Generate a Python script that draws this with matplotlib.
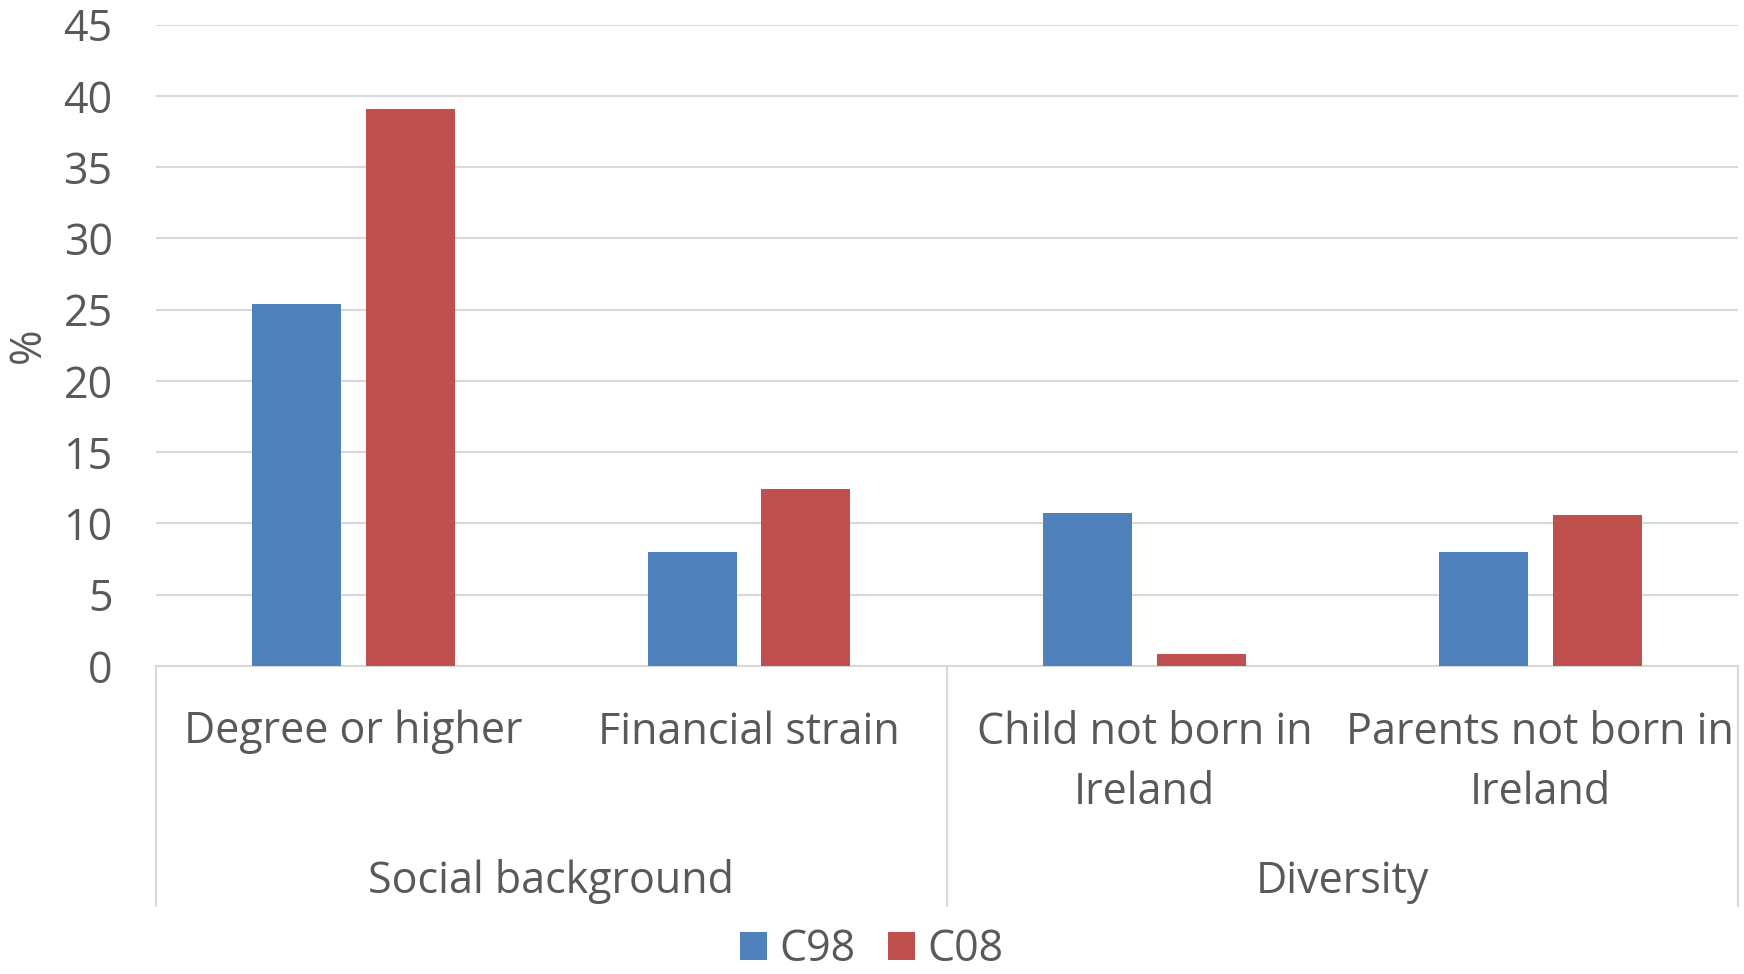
import matplotlib
matplotlib.use('Agg')
import matplotlib.pyplot as plt
import matplotlib.transforms as mtransforms
import numpy as np

# survey shares (%) for the two cohorts
categories = ['Degree or higher', 'Financial strain', 'Child not born in\nIreland', 'Parents not born in\nIreland']
groups = ['Social background', 'Diversity']
group_spans = [(0, 1), (2, 3)]
c98 = [25.4, 8.0, 10.7, 8.0]
c08 = [39.1, 12.4, 0.85, 10.6]
series_names = ['C98', 'C08']
yticks = [0, 5, 10, 15, 20, 25, 30, 35, 40, 45]

blue = '#4f81bd'
red = '#c0504d'
text_col = '#595959'
grid_col = '#d9d9d9'
fs = 31

plt.rcParams['font.family'] = ['Open Sans', 'DejaVu Sans']

fig = plt.figure(figsize=(17.44, 9.74), dpi=100)
ax = fig.add_axes([0.0893, 0.3162, 0.9073, 0.6586])

x = np.arange(len(categories))
w = 0.225
off = 0.1434
ax.bar(x - off, c98, w, color=blue, label=series_names[0], zorder=3)
ax.bar(x + off, c08, w, color=red, label=series_names[1], zorder=3)

ax.set_xlim(-0.5, len(categories) - 0.5)
ax.set_ylim(0, 45)
ax.set_yticks(yticks)
ax.yaxis.grid(True, color=grid_col, linewidth=1.5, zorder=0)
ax.set_xticks([])
ax.tick_params(axis='y', length=0, labelsize=fs, labelcolor=text_col, pad=31)
for s in ['top', 'right', 'left']:
    ax.spines[s].set_visible(False)
ax.spines['bottom'].set_color(grid_col)
ax.spines['bottom'].set_linewidth(1.5)
ax.set_ylabel('%', fontsize=fs, color=text_col)
ax.yaxis.set_label_coords(-0.066, 0.5)

# two-level category axis below the plot
tr = mtransforms.blended_transform_factory(ax.transData, fig.transFigure)
for i, lab in enumerate(categories):
    ax.text(x[i], 1 - 710 / 974, lab, transform=tr, ha='center', va='top',
            fontsize=fs, color=text_col, linespacing=1.47)
for g, (a, b) in zip(groups, group_spans):
    ax.text((x[a] + x[b]) / 2, 1 - 882 / 974, g, transform=tr, ha='center', va='center',
            fontsize=fs, color=text_col)
for xs in [-0.5, 1.5, 3.5]:
    ax.plot([xs, xs], [1 - 666 / 974, 1 - 906 / 974], transform=tr, color=grid_col,
            linewidth=1.5, clip_on=False)

fig.legend(loc='center', bbox_to_anchor=(0.5, 1 - 950 / 974), ncol=2, frameon=False,
           fontsize=fs, labelcolor=text_col, handlelength=0.62, handleheight=0.62,
           handletextpad=0.3, columnspacing=0.75, borderaxespad=0)

fig.savefig('out.png', dpi=100)
